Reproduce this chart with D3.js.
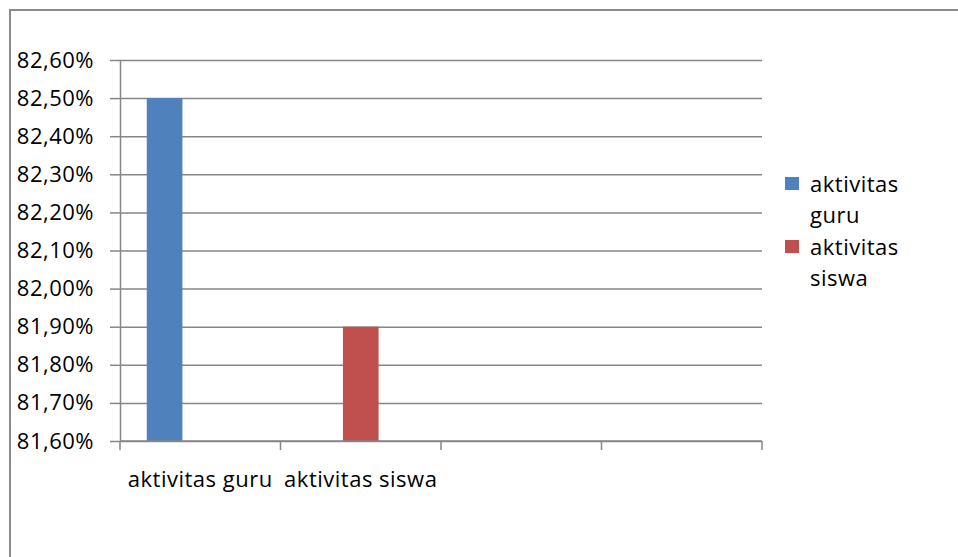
<!DOCTYPE html>
<html>
<head>
<meta charset="utf-8">
<script src="https://cdn.jsdelivr.net/npm/d3@7/dist/d3.min.js"></script>
<style>
  html, body { margin: 0; padding: 0; background: #fff; }
  svg { display: block; }
  text { font-family: "Open Sans", "Noto Sans", sans-serif; fill: #000; letter-spacing: 0.5px; }
</style>
</head>
<body>
<svg id="chart" width="958" height="557"></svg>
<script>
// Category slots along the x axis (the last two are empty)
const categories = ["aktivitas guru", "aktivitas siswa", "", ""];
// Series names, shown in the legend
const seriesNames = ["aktivitas guru", "aktivitas siswa"];
const seriesColors = ["#4F81BD", "#C0504D"];
// Values per category for each series (null = no bar)
const guruValues = [0.825, null, null, null];
const siswaValues = [null, 0.819, null, null];
// The cluster holds three bar positions per category
const clusterSlots = [0, 1, 2];
// Y-axis tick values
const yTicks = [0.816, 0.817, 0.818, 0.819, 0.820, 0.821, 0.822, 0.823, 0.824, 0.825, 0.826];

const seriesValues = [guruValues, siswaValues];

const svg = d3.select("#chart");
const plotLeft = 120, plotRight = 762, plotTop = 60, plotBottom = 441;
const gridColor = "#868686";

// outer chart frame
svg.append("rect")
  .attr("x", 10).attr("y", 10)
  .attr("width", 1200).attr("height", 1200)
  .attr("fill", "none")
  .attr("stroke", "#8a8a8a")
  .attr("stroke-width", 2);

const x = d3.scaleBand().domain(d3.range(categories.length)).range([plotLeft, plotRight]).padding(0);
const xInner = d3.scaleBand().domain(clusterSlots).range([0, x.bandwidth()])
  .paddingInner(0).paddingOuter(0.75);
const y = d3.scaleLinear().domain([0.816, 0.826]).range([plotBottom, plotTop]);

const fmt = v => d3.format(".2f")(v * 100).replace(".", ",") + "%";

// horizontal gridlines
svg.append("g")
  .attr("transform", `translate(${plotLeft},0)`)
  .call(d3.axisLeft(y).tickValues(yTicks).tickSize(-(plotRight - plotLeft)).tickFormat(""))
  .call(g => g.select(".domain").remove())
  .call(g => g.selectAll("line").attr("stroke", gridColor).attr("stroke-width", 1.5));

// y axis with outside ticks and labels
svg.append("g")
  .attr("transform", `translate(${plotLeft},0)`)
  .call(d3.axisLeft(y).tickValues(yTicks).tickSize(10).tickSizeOuter(0).tickPadding(16).tickFormat(fmt))
  .call(g => g.select(".domain").attr("stroke", gridColor).attr("stroke-width", 1.5))
  .call(g => g.selectAll("line").attr("stroke", gridColor).attr("stroke-width", 1.5))
  .call(g => g.selectAll("text").attr("font-size", 22).attr("font-family", "'Open Sans', sans-serif"));

// bars
seriesValues.forEach((vals, si) => {
  svg.append("g")
    .selectAll("rect")
    .data(vals.map((v, ci) => ({ v, ci })).filter(d => d.v != null))
    .join("rect")
    .attr("x", d => x(d.ci) + xInner(si))
    .attr("width", xInner.bandwidth())
    .attr("y", d => y(d.v))
    .attr("height", d => plotBottom - y(d.v))
    .attr("fill", seriesColors[si]);
});

// x axis: boundary ticks between category slots
const xAxisG = svg.append("g").attr("transform", `translate(0,${plotBottom})`);
const xTickPos = d3.range(categories.length + 1).map(i => plotLeft + i * x.step());
xAxisG.append("line")
  .attr("x1", plotLeft).attr("x2", plotRight)
  .attr("stroke", gridColor).attr("stroke-width", 1.5);
xAxisG.selectAll(".xtick")
  .data(xTickPos)
  .join("line")
  .attr("class", "xtick")
  .attr("x1", d => d).attr("x2", d => d)
  .attr("y1", 0).attr("y2", 9)
  .attr("stroke", gridColor).attr("stroke-width", 1.5);
xAxisG.selectAll(".xlabel")
  .data(categories)
  .join("text")
  .attr("class", "xlabel")
  .attr("x", (d, i) => x(i) + x.bandwidth() / 2)
  .attr("y", 46)
  .attr("text-anchor", "middle")
  .attr("font-size", 22)
  .text(d => d);

// legend
const legend = svg.append("g");
const legendLines = [["aktivitas", "guru"], ["aktivitas", "siswa"]];
seriesNames.forEach((name, i) => {
  const gy = 177 + i * 63;
  legend.append("rect")
    .attr("x", 785).attr("y", gy)
    .attr("width", 14).attr("height", 13)
    .attr("fill", seriesColors[i]);
  legend.append("text")
    .attr("x", 810).attr("y", gy + 15)
    .attr("font-size", 22)
    .selectAll("tspan")
    .data(legendLines[i])
    .join("tspan")
    .attr("x", 810)
    .attr("dy", (d, j) => j === 0 ? 0 : 31)
    .text(d => d);
});
</script>
</body>
</html>
